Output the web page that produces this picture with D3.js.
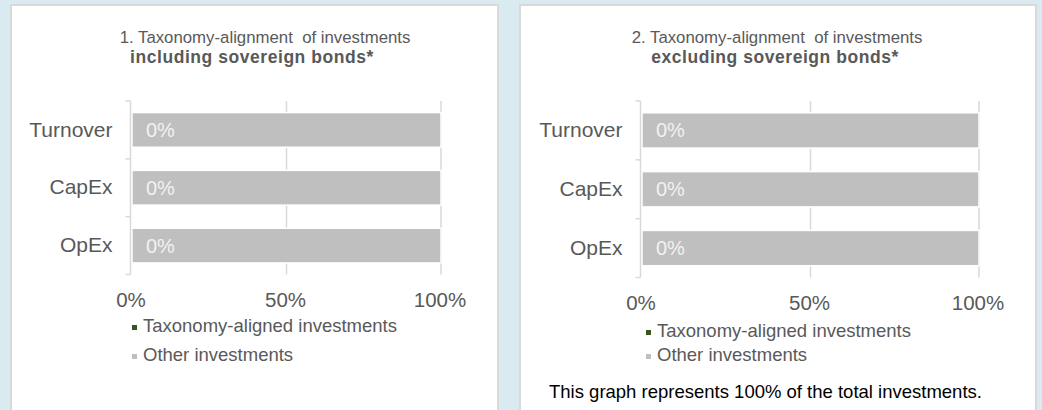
<!DOCTYPE html>
<html>
<head>
<meta charset="utf-8">
<script src="https://cdn.jsdelivr.net/npm/d3@7"></script>
<style>
  html, body { margin: 0; padding: 0; background: #daeaf1; }
  svg { display: block; font-family: "Liberation Sans", Arial, sans-serif; }
</style>
</head>
<body>
<svg id="chart" width="1042" height="410"></svg>
<script>
// Taxonomy-alignment data (shares of investments, %)
const categories = ["Turnover", "CapEx", "OpEx"];
const seriesNames = ["Taxonomy-aligned investments", "Other investments"];
const alignedIncl = [0, 0, 0];
const otherIncl = [100, 100, 100];
const alignedExcl = [0, 0, 0];
const otherExcl = [100, 100, 100];
const xTicks = [0, 50, 100];
const xTickLabels = ["0%", "50%", "100%"];
const titleLine1 = ["1. Taxonomy-alignment  of investments", "2. Taxonomy-alignment  of investments"];
const titleLine2 = ["including sovereign bonds*", "excluding sovereign bonds*"];
const footnote = "This graph represents 100% of the total investments.";

const colors = { aligned: "#375623", other: "#bfbfbf" };
const textGrey = "#595959";
const lineGrey = "#d9d9d9";

const svg = d3.select("#chart");
svg.append("rect").attr("width", 1042).attr("height", 410).attr("fill", "#daeaf1");

// layout for the two panels
const panels = [
  { box: [11, 5, 487, 420], t1: 265, t2: 252, xr: [132, 441], yr: [101, 274.5],
    aligned: alignedIncl, other: otherIncl, legX: 132, legY: [332, 361], note: null },
  { box: [520, 5, 516, 420], t1: 777, t2: 775, xr: [642, 979], yr: [101, 277.5],
    aligned: alignedExcl, other: otherExcl, legX: 646, legY: [337, 361], note: 398 }
];

panels.forEach((p, i) => {
  const g = svg.append("g");
  g.append("rect")
    .attr("x", p.box[0]).attr("y", p.box[1])
    .attr("width", p.box[2]).attr("height", p.box[3])
    .attr("fill", "#ffffff").attr("stroke", lineGrey).attr("stroke-width", 2);

  // title
  g.append("text").attr("x", p.t1).attr("y", 43).attr("text-anchor", "middle")
    .attr("font-size", 16.8).attr("fill", textGrey).style("white-space", "pre")
    .text(titleLine1[i]);
  g.append("text").attr("x", p.t2).attr("y", 63).attr("text-anchor", "middle")
    .attr("font-size", 17.5).attr("font-weight", "bold").attr("fill", textGrey)
    .attr("letter-spacing", 0.55)
    .text(titleLine2[i]);

  const x = d3.scaleLinear().domain([0, 100]).range(p.xr);
  const y = d3.scaleBand().domain(categories).range(p.yr).paddingInner(0.4).paddingOuter(0.2);

  // vertical gridlines
  g.append("g").selectAll("line").data(xTicks.filter(v => v > 0)).join("line")
    .attr("x1", d => x(d)).attr("x2", d => x(d))
    .attr("y1", p.yr[0]).attr("y2", p.yr[1])
    .attr("stroke", lineGrey).attr("stroke-width", 1.5);

  // stacked bars
  const rows = categories.map((c, k) => ({ cat: c, aligned: p.aligned[k], other: p.other[k] }));
  const stack = d3.stack().keys(["aligned", "other"])(rows);
  g.append("g").selectAll("g").data(stack).join("g")
    .attr("fill", d => colors[d.key])
    .selectAll("rect").data(d => d).join("rect")
    .attr("x", d => x(d[0])).attr("width", d => x(d[1]) - x(d[0]))
    .attr("y", d => y(d.data.cat)).attr("height", y.bandwidth())
    .attr("stroke", "#ffffff").attr("stroke-width", d => (d[1] - d[0]) > 0 ? 1.5 : 0);

  // value labels of the aligned share
  g.append("g").selectAll("text").data(rows).join("text")
    .attr("x", d => x(d.aligned) + 14)
    .attr("y", d => y(d.cat) + y.bandwidth() / 2)
    .attr("dy", "0.35em").attr("font-size", 20).attr("fill", "#f2f2f2")
    .text(d => d.aligned + "%");

  // category axis
  const axisX = x(0) - 1.5;
  const yAxis = d3.axisLeft(y).tickSize(0).tickPadding(0);
  const ya = g.append("g").attr("transform", `translate(${axisX},0)`).call(yAxis);
  ya.select(".domain").remove();
  ya.selectAll("text").attr("x", -18).attr("font-size", 21).attr("fill", textGrey)
    .attr("font-family", "Liberation Sans, Arial, sans-serif");
  g.append("line").attr("x1", axisX).attr("x2", axisX).attr("y1", p.yr[0]).attr("y2", p.yr[1])
    .attr("stroke", lineGrey).attr("stroke-width", 1.5);
  // tick marks at category boundaries
  const edges = d3.range(categories.length + 1).map(k => p.yr[0] + k * (p.yr[1] - p.yr[0]) / categories.length);
  g.append("g").selectAll("line").data(edges).join("line")
    .attr("x1", axisX - 5).attr("x2", axisX)
    .attr("y1", d => d).attr("y2", d => d)
    .attr("stroke", lineGrey).attr("stroke-width", 1.5);

  // value axis labels
  g.append("g").selectAll("text").data(xTicks).join("text")
    .attr("x", d => x(d) - 1).attr("y", p.yr[1] + 32)
    .attr("text-anchor", "middle").attr("font-size", 20.5).attr("fill", textGrey)
    .text((d, k) => xTickLabels[k]);

  // legend
  const leg = g.append("g").selectAll("g").data(seriesNames).join("g")
    .attr("transform", (d, k) => `translate(${p.legX},${p.legY[k]})`);
  leg.append("rect").attr("x", 0).attr("y", -7).attr("width", 5).attr("height", 5)
    .attr("fill", (d, k) => k === 0 ? colors.aligned : colors.other);
  leg.append("text").attr("x", 11).attr("y", 0).attr("font-size", 18.5).attr("fill", textGrey)
    .text(d => d);

  if (p.note) {
    g.append("text").attr("x", 549).attr("y", p.note).attr("font-size", 18.5).attr("fill", "#000000")
      .text(footnote);
  }
});
</script>
</body>
</html>
